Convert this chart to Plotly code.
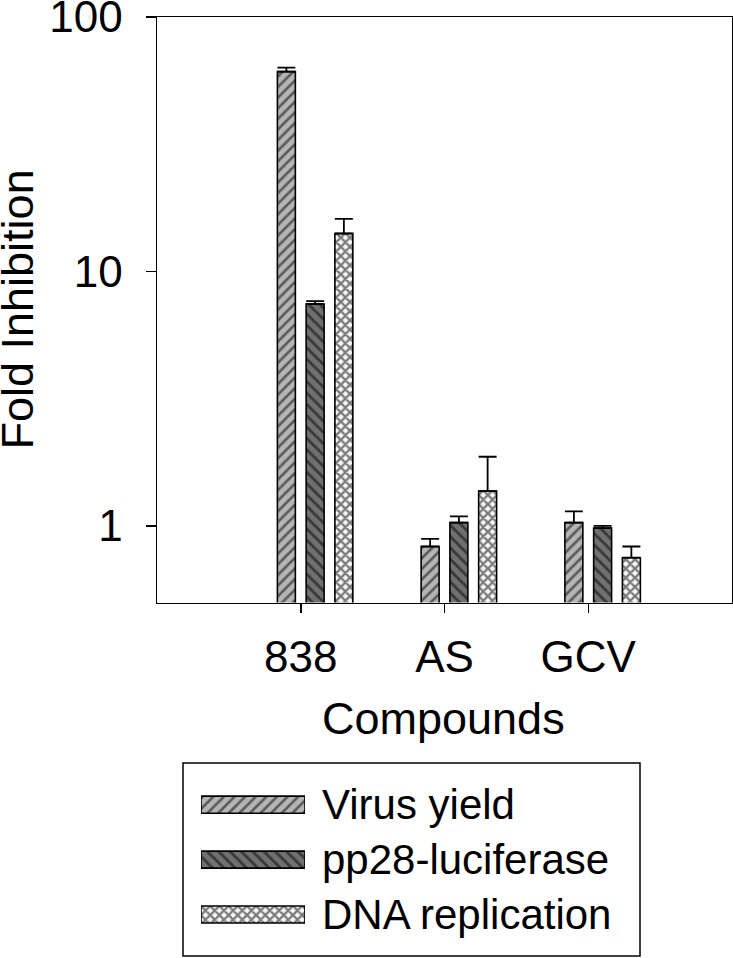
import plotly.graph_objects as go

# ---------------- data ----------------
categories = ["838", "AS", "GCV"]
series_names = ["Virus yield", "pp28-luciferase", "DNA replication"]
virus_yield = [61.0, 0.83, 1.03]
virus_yield_err = [2.2, 0.06, 0.11]
pp28_luciferase = [7.45, 1.03, 0.98]
pp28_luciferase_err = [0.2, 0.06, 0.02]
dna_replication = [14.1, 1.37, 0.75]
dna_replication_err = [2.0, 0.50, 0.08]
y_tick_values = [1, 10, 100]
y_tick_labels = ["1", "10", "100"]

# ---------------- styling ----------------
W, H = 733, 958
FONT = "Liberation Sans, Arial, sans-serif"
styles = [
    dict(shape="/", bgcolor="#b5b5b5", fgcolor="black", size=7.5, solidity=0.35),
    dict(shape="\\", bgcolor="#707070", fgcolor="black", size=8, solidity=0.35),
    dict(shape="x", bgcolor="#f8f8f8", fgcolor="black", size=6.5, solidity=0.6),
]
offsets = [-0.1625, 0.0375, 0.2375]
bar_width = 0.125

def px_x(x):
    return x / W

def px_y(y):
    return 1 - y / H

fig = go.Figure()
values = [virus_yield, pp28_luciferase, dna_replication]
errors = [virus_yield_err, pp28_luciferase_err, dna_replication_err]
xpos = list(range(len(categories)))
for name, vals, errs, st, off in zip(series_names, values, errors, styles, offsets):
    fig.add_trace(go.Bar(
        x=xpos, y=vals, name=name, width=bar_width, offset=off,
        marker=dict(pattern=st, line=dict(color="black", width=1.6)),
        error_y=dict(type="data", array=errs, arrayminus=[0] * len(errs),
                     symmetric=False, color="black", thickness=1.8, width=9),
        showlegend=False, xaxis="x", yaxis="y",
    ))

# custom legend drawn as a small horizontal bar chart
for i, (name, st) in enumerate(zip(series_names, styles)):
    fig.add_trace(go.Bar(
        x=[1], y=[i], orientation="h", width=0.31,
        marker=dict(pattern=st, line=dict(color="black", width=1.6)),
        showlegend=False, xaxis="x2", yaxis="y2", hoverinfo="skip",
    ))

leg_rows_y = [804.7, 859.5, 914.5]
annotations = []
for name, yy in zip(series_names, leg_rows_y):
    annotations.append(dict(text=name, x=px_x(320), y=px_y(yy), xref="paper", yref="paper",
                            xanchor="left", yanchor="middle", showarrow=False,
                            font=dict(size=42, color="black", family=FONT)))
annotations.append(dict(text="Compounds", x=px_x(443), y=px_y(718.5), xref="paper", yref="paper",
                        xanchor="center", yanchor="middle", showarrow=False,
                        font=dict(size=45, color="black", family=FONT)))
annotations.append(dict(text="Fold Inhibition", x=px_x(16.5), y=px_y(310), xref="paper", yref="paper",
                        xanchor="center", yanchor="middle", showarrow=False, textangle=-90,
                        font=dict(size=45, color="black", family=FONT)))

fig.update_layout(
    width=W, height=H,
    autosize=False,
    margin=dict(l=0, r=0, t=0, b=0, autoexpand=False),
    paper_bgcolor="white", plot_bgcolor="white",
    barmode="overlay",
    font=dict(family=FONT, color="black"),
    xaxis=dict(domain=[px_x(157), px_x(732)], range=[-1, 3],
               tickvals=xpos, ticktext=categories,
               ticks="outside", ticklen=9, tickwidth=1.5, tickcolor="black",
               showline=True, linecolor="black", linewidth=1.5, mirror=True,
               showgrid=False, zeroline=False, automargin=False,
               tickfont=dict(size=44, family=FONT, color="black"),
               ticklabelstandoff=6, ticklabeloverflow="allow"),
    yaxis=dict(domain=[px_y(602.5), px_y(17)], type="log", range=[-0.30103, 2],
               tickvals=y_tick_values, ticktext=y_tick_labels,
               ticks="outside", ticklen=10, tickwidth=1.5, tickcolor="black",
               showline=True, linecolor="black", linewidth=1.5, mirror=True,
               showgrid=False, zeroline=False, automargin=False,
               tickfont=dict(size=44, family=FONT, color="black"),
               ticklabelstandoff=14, ticklabeloverflow="allow"),
    xaxis2=dict(domain=[px_x(201), px_x(305)], range=[0, 1], anchor="y2",
                visible=False, fixedrange=True, automargin=False),
    yaxis2=dict(domain=[px_y(942), px_y(777.2)], range=[2.5, -0.5], anchor="x2",
                visible=False, fixedrange=True, automargin=False),
    shapes=[dict(type="rect", xref="paper", yref="paper",
                 x0=px_x(183), x1=px_x(640), y0=px_y(956), y1=px_y(763),
                 line=dict(color="black", width=1.5), fillcolor="rgba(0,0,0,0)")],
    annotations=annotations,
)

fig.write_html("out.html", config={"displayModeBar": False, "staticPlot": True},
               post_script="document.body.style.margin='0';document.body.style.overflow='hidden';")
